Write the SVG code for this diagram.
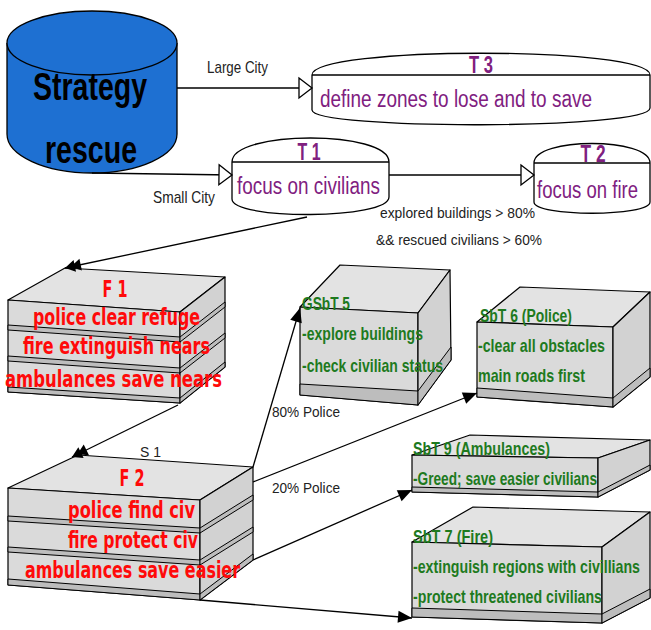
<svg xmlns="http://www.w3.org/2000/svg" width="651" height="630" viewBox="0 0 651 630">
<style>
.bg{fill:#fff}
.ln{fill:none;stroke:#000;stroke-width:1.3}
.shape{fill:#fff;stroke:#000;stroke-width:1.3}
.top{fill:#e3e3e3;stroke:#000;stroke-width:1.2;stroke-linejoin:round}
.front{fill:#dadada;stroke:#000;stroke-width:1.2;stroke-linejoin:round}
.side{fill:#d2d2d2;stroke:#000;stroke-width:1.2;stroke-linejoin:round}
.band{fill:#bdbdbd;stroke:#000;stroke-width:1}
.lbl{font-family:"Liberation Sans",Arial,sans-serif;font-size:15px;fill:#222}
.lbl2{font-family:"Liberation Sans",Arial,sans-serif;font-size:17px;fill:#222}
.tt{font-family:"Liberation Sans",Arial,sans-serif;font-weight:bold;font-size:23px;fill:#80207f;text-anchor:middle}
.td{font-family:"Liberation Sans",Arial,sans-serif;font-size:23px;fill:#80207f}
.ft{font-family:"DejaVu Sans",Verdana,sans-serif;font-weight:bold;font-size:23px;fill:#ff0a0a}
.gt{font-family:"Liberation Sans",Arial,sans-serif;font-weight:bold;font-size:19px;fill:#1e7a1e}
.cyl{font-family:"Liberation Sans",Arial,sans-serif;font-weight:bold;font-size:38px;fill:#000}
</style>
<defs>
<marker id="open" markerUnits="userSpaceOnUse" markerWidth="18" markerHeight="24" refX="14" refY="11" orient="auto" overflow="visible"><path d="M1,1 L14,11 L1,21 z" fill="#fff" stroke="#000" stroke-width="1.3"/></marker>
<marker id="solid" markerUnits="userSpaceOnUse" markerWidth="16" markerHeight="14" refX="14" refY="6" orient="auto" overflow="visible"><path d="M0,0 L14,6 L0,12 z" fill="#000"/></marker>
<marker id="dbl" markerUnits="userSpaceOnUse" markerWidth="18" markerHeight="14" refX="16" refY="6" orient="auto" overflow="visible"><path d="M16,6 L6,0 L6,12 z M10,6 L0,0 L0,12 z" fill="#000"/></marker>
</defs>
<rect class="bg" x="0" y="0" width="651" height="630"/>

<g id="strategy">
<path d="M7,43 V134 A85,39 0 0 0 177,134 V43" fill="#1e70d2" stroke="#000" stroke-width="1.3"/>
<ellipse cx="92" cy="43" rx="85" ry="32" fill="#1e70d2" stroke="#000" stroke-width="1.3"/>
<text class="cyl" x="33" y="100" textLength="114" lengthAdjust="spacingAndGlyphs">Strategy</text>
<text class="cyl" x="45" y="163" textLength="92" lengthAdjust="spacingAndGlyphs">rescue</text>
</g>

<g id="T3">
<path class="shape" d="M312,75 C312,46 650,46 650,75 V108 C650,130 312,130 312,110 Z"/>
<line class="ln" x1="312" y1="75" x2="650" y2="75"/>
<text class="tt" x="481" y="73" textLength="24" lengthAdjust="spacingAndGlyphs">T 3</text>
<text class="td" x="320" y="107" textLength="272" lengthAdjust="spacingAndGlyphs">define zones to lose and to save</text>
</g>

<g id="T1">
<path class="shape" d="M232,162 C232,130 389,130 389,162 V197 C389,220 232,220 232,199 Z"/>
<line class="ln" x1="232" y1="162" x2="389" y2="162"/>
<text class="tt" x="309" y="160" textLength="23" lengthAdjust="spacingAndGlyphs">T 1</text>
<text class="td" x="237" y="194" textLength="143" lengthAdjust="spacingAndGlyphs">focus on civilians</text>
</g>

<g id="T2">
<path class="shape" d="M534,163 C534,137 650,137 650,163 V202 C650,217 534,217 534,202 Z"/>
<line class="ln" x1="534" y1="163" x2="650" y2="163"/>
<text class="tt" x="593" y="162" textLength="25" lengthAdjust="spacingAndGlyphs">T 2</text>
<text class="td" x="537" y="198" textLength="101" lengthAdjust="spacingAndGlyphs">focus on fire</text>
</g>

<g id="F1">
<polygon class="top" points="8,300 65,268 225,277 180,312"/>
<polygon class="front" points="8,300 180,312 180,403 8,392"/>
<polygon class="side" points="180,312 225,277 225,367 180,403"/>
<polygon class="band" points="8,325 180,337 180,342 8,330"/>
<polygon class="band" points="180,337 225,302 225,307 180,342"/>
<polygon class="band" points="8,356 180,368 180,373 8,361"/>
<polygon class="band" points="180,368 225,333 225,338 180,373"/>
<polygon class="band" points="8,387 180,398 180,403 8,392"/>
<polygon class="band" points="180,398 225,362 225,367 180,403"/>
<text class="ft" x="115" y="297" text-anchor="middle" textLength="25" lengthAdjust="spacingAndGlyphs">F 1</text>
<text class="ft" x="33" y="325" textLength="167" lengthAdjust="spacingAndGlyphs">police clear refuge</text>
<text class="ft" x="23" y="354" textLength="187" lengthAdjust="spacingAndGlyphs">fire extinguish nears</text>
<text class="ft" x="5" y="387" textLength="217" lengthAdjust="spacingAndGlyphs">ambulances save nears</text>
</g>

<g id="F2">
<polygon class="top" points="8,488 78,455 253,467 200,500"/>
<polygon class="front" points="8,488 200,500 200,600 8,585"/>
<polygon class="side" points="200,500 253,467 253,560 200,600"/>
<polygon class="band" points="8,516 200,528 200,533 8,521"/>
<polygon class="band" points="200,528 253,495 253,500 200,533"/>
<polygon class="band" points="8,547 200,560 200,565 8,552"/>
<polygon class="band" points="200,560 253,527 253,532 200,565"/>
<polygon class="band" points="8,579 200,594 200,600 8,585"/>
<polygon class="band" points="200,594 253,554 253,560 200,600"/>
<text class="ft" x="132" y="486" text-anchor="middle" textLength="25" lengthAdjust="spacingAndGlyphs">F 2</text>
<text class="ft" x="68" y="518" textLength="127" lengthAdjust="spacingAndGlyphs">police find civ</text>
<text class="ft" x="68" y="548" textLength="130" lengthAdjust="spacingAndGlyphs">fire protect civ</text>
<text class="ft" x="25" y="578" textLength="215" lengthAdjust="spacingAndGlyphs">ambulances save easier</text>
</g>

<g id="GSbT5">
<polygon class="top" points="300,307 340,265 450,270 418,313"/>
<polygon class="front" points="300,307 418,313 418,405 300,395"/>
<polygon class="side" points="418,313 450,270 451,360 418,405"/>
<polygon class="band" points="300,384 418,391 418,405 300,395"/>
<polygon class="band" points="418,391 451,347 451,360 418,405"/>
<text class="gt" x="302" y="310" textLength="48" lengthAdjust="spacingAndGlyphs">GSbT 5</text>
<text class="gt" x="302" y="340" textLength="121" lengthAdjust="spacingAndGlyphs">-explore buildings</text>
<text class="gt" x="302" y="372" textLength="141" lengthAdjust="spacingAndGlyphs">-check civilian status</text>
</g>

<g id="SbT6">
<polygon class="top" points="477,322 520,287 650,292 613,327"/>
<polygon class="front" points="477,322 613,327 613,407 477,397"/>
<polygon class="side" points="613,327 650,292 650,377 613,407"/>
<polygon class="band" points="477,388 613,398 613,407 477,397"/>
<polygon class="band" points="613,398 650,368 650,377 613,407"/>
<text class="gt" x="480" y="322" textLength="92" lengthAdjust="spacingAndGlyphs">SbT 6 (Police)</text>
<text class="gt" x="478" y="352" textLength="127" lengthAdjust="spacingAndGlyphs">-clear all obstacles</text>
<text class="gt" x="478" y="382" textLength="107" lengthAdjust="spacingAndGlyphs">main roads first</text>
</g>

<g id="SbT9">
<polygon class="top" points="412,455 470,435 650,440 598,458"/>
<polygon class="front" points="412,455 598,458 598,497 412,492"/>
<polygon class="side" points="598,458 650,440 650,470 598,497"/>
<polygon class="band" points="412,487 598,492 598,497 412,492"/>
<polygon class="band" points="598,492 650,465 650,470 598,497"/>
<text class="gt" x="413" y="455" textLength="137" lengthAdjust="spacingAndGlyphs">SbT 9 (Ambulances)</text>
<text class="gt" x="413" y="485" textLength="184" lengthAdjust="spacingAndGlyphs">-Greed; save easier civilians</text>
</g>

<g id="SbT7">
<polygon class="top" points="412,542 473,507 650,512 602,547"/>
<polygon class="front" points="412,542 602,547 602,623 412,617"/>
<polygon class="side" points="602,547 650,512 650,598 602,623"/>
<polygon class="band" points="412,608 602,614 602,623 412,617"/>
<polygon class="band" points="602,614 650,589 650,598 602,623"/>
<text class="gt" x="413" y="543" textLength="80" lengthAdjust="spacingAndGlyphs">SbT 7 (Fire)</text>
<text class="gt" x="413" y="573" textLength="227" lengthAdjust="spacingAndGlyphs">-extinguish regions with civillians</text>
<text class="gt" x="413" y="603" textLength="189" lengthAdjust="spacingAndGlyphs">-protect threatened civilians</text>
</g>

<g id="connectors">
<path class="ln" d="M177,88 H312" marker-end="url(#open)"/>
<path class="ln" d="M92,173 L232,175" marker-end="url(#open)"/>
<path class="ln" d="M389,175 H534" marker-end="url(#open)"/>
<path class="ln" d="M307,217 L65,268" marker-end="url(#dbl)"/>
<path class="ln" d="M178,405 L72,457" marker-end="url(#dbl)"/>
<path class="ln" d="M253,467 L300,308" marker-end="url(#solid)"/>
<path class="ln" d="M253,482 L477,393" marker-end="url(#solid)"/>
<path class="ln" d="M253,560 L412,490" marker-end="url(#solid)"/>
<path class="ln" d="M200,600 L412,618" marker-end="url(#solid)"/>
<text class="lbl2" x="207" y="73" textLength="61" lengthAdjust="spacingAndGlyphs">Large City</text>
<text class="lbl2" x="153" y="203" textLength="62" lengthAdjust="spacingAndGlyphs">Small City</text>
<text class="lbl" x="380" y="218" textLength="155" lengthAdjust="spacingAndGlyphs">explored buildings &gt; 80%</text>
<text class="lbl" x="376" y="245" textLength="166" lengthAdjust="spacingAndGlyphs">&amp;&amp; rescued civilians &gt; 60%</text>
<text class="lbl" x="140" y="457" textLength="21" lengthAdjust="spacingAndGlyphs">S 1</text>
<text class="lbl" x="272" y="417" textLength="68" lengthAdjust="spacingAndGlyphs">80% Police</text>
<text class="lbl" x="272" y="493" textLength="68" lengthAdjust="spacingAndGlyphs">20% Police</text>
</g>
</svg>
